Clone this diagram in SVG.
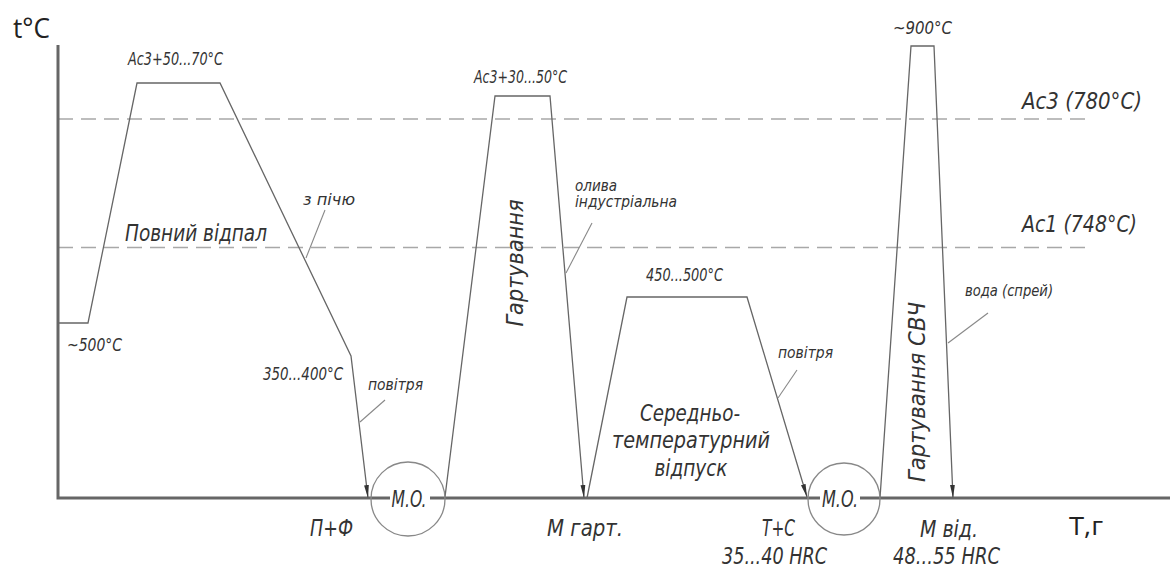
<svg xmlns="http://www.w3.org/2000/svg" width="1176" height="571" viewBox="0 0 1176 571">
  <defs>
    <marker id="arrow" markerUnits="userSpaceOnUse" markerWidth="14" markerHeight="8" viewBox="0 0 14 8" refX="13" refY="4" orient="auto">
      <path d="M0,1.6 L13,4 L0,6.4 Z" fill="#333"/>
    </marker>
    <style>
      .axis { stroke: #666; stroke-width: 3; fill: none; }
      .grid { stroke: #a8a8a8; stroke-width: 1.5; stroke-dasharray: 15 8; fill: none; }
      .curve { stroke: #666; stroke-width: 1.3; fill: none; stroke-linejoin: miter; }
      .lead { stroke: #888; stroke-width: 1.1; fill: none; }
      .ring { stroke: #888; stroke-width: 1.3; fill: none; }
      .t { font-family: "DejaVu Sans Condensed", "DejaVu Sans", "Liberation Sans", sans-serif; font-style: italic; fill: #333; }
      .s { font-size: 15px; }
      .m { font-size: 18px; }
      .l { font-size: 23px; }
      .ax { font-family: "Open Sans", "Liberation Sans", sans-serif; fill: #222; }
    </style>
  </defs>

  <rect width="1176" height="571" fill="#fff"/>

  <!-- critical temperature levels -->
  <g id="levels">
    <path class="grid" d="M58,119 H1088"/>
    <path class="grid" d="M58,247.5 H1088"/>
    <text class="t l" x="1022" y="109" textLength="120" lengthAdjust="spacingAndGlyphs">Ac3 (780°C)</text>
    <text class="t l" x="1022" y="232" textLength="115" lengthAdjust="spacingAndGlyphs">Ac1 (748°C)</text>
  </g>

  <!-- coordinate axes -->
  <g id="axes">
    <path class="axis" d="M58,45 V498 H1170"/>
    <text class="ax" x="13" y="38" font-size="28" textLength="37" lengthAdjust="spacingAndGlyphs">t°C</text>
    <text class="ax" x="1069" y="535" font-size="25" textLength="34" lengthAdjust="spacingAndGlyphs">Τ,г</text>
  </g>

  <!-- process curves -->
  <g id="connectors">
    <path class="curve" d="M58,323 H88 L137,83 H220 L351,356 L368,498" marker-end="url(#arrow)"/>
    <path class="curve" d="M445,497 L495,96 H550 L584,498" marker-end="url(#arrow)"/>
    <path class="curve" d="M587,498 L627,297 H747 L807,497" marker-end="url(#arrow)"/>
    <path class="curve" d="M880,498 L911,46 H934 L953,498" marker-end="url(#arrow)"/>
    <path class="lead" d="M325,210 L306,258"/>
    <path class="lead" d="M385,400 L360,422"/>
    <path class="lead" d="M592,223 L566,273"/>
    <path class="lead" d="M797,370 L778,398"/>
    <path class="lead" d="M988,313 L948,343"/>
  </g>

  <!-- full annealing -->
  <g id="annealing">
    <text class="t m" x="128" y="65" textLength="95" lengthAdjust="spacingAndGlyphs">Ac3+50...70°C</text>
    <text class="t m" x="67" y="351" textLength="55" lengthAdjust="spacingAndGlyphs">~500°C</text>
    <text class="t l" x="125" y="241" textLength="142" lengthAdjust="spacingAndGlyphs">Повний відпал</text>
    <text class="t s" x="303" y="205" textLength="52" lengthAdjust="spacingAndGlyphs">з пічю</text>
    <text class="t m" x="263" y="380" textLength="80" lengthAdjust="spacingAndGlyphs">350...400°C</text>
    <text class="t s" x="368" y="390" textLength="55" lengthAdjust="spacingAndGlyphs">повітря</text>
    <text class="t l" x="310" y="536" textLength="43" lengthAdjust="spacingAndGlyphs">П+Ф</text>
  </g>

  <!-- machining 1 -->
  <g id="machining-1">
    <circle class="ring" cx="408" cy="499" r="37"/>
    <rect x="390" y="486" width="40" height="24" fill="#fff"/>
    <text class="t l" x="409" y="507" text-anchor="middle" textLength="35" lengthAdjust="spacingAndGlyphs">M.O.</text>
  </g>

  <!-- hardening -->
  <g id="hardening">
    <text class="t m" x="474" y="83" textLength="93" lengthAdjust="spacingAndGlyphs">Ac3+30...50°C</text>
    <text class="t l" transform="translate(523,263) rotate(-90)" text-anchor="middle" textLength="127" lengthAdjust="spacingAndGlyphs">Гартування</text>
    <text class="t s" x="575" y="191" textLength="42" lengthAdjust="spacingAndGlyphs">олива</text>
    <text class="t s" x="575" y="207" textLength="102" lengthAdjust="spacingAndGlyphs">індустріальна</text>
    <text class="t l" x="547" y="536" textLength="76" lengthAdjust="spacingAndGlyphs">M гарт.</text>
  </g>

  <!-- medium tempering -->
  <g id="tempering">
    <text class="t m" x="646" y="281" textLength="77" lengthAdjust="spacingAndGlyphs">450...500°C</text>
    <text class="t l" x="690" y="421" text-anchor="middle" textLength="100" lengthAdjust="spacingAndGlyphs">Середньо-</text>
    <text class="t l" x="691" y="448" text-anchor="middle" textLength="158" lengthAdjust="spacingAndGlyphs">температурний</text>
    <text class="t l" x="691" y="476" text-anchor="middle" textLength="73" lengthAdjust="spacingAndGlyphs">відпуск</text>
    <text class="t s" x="778" y="358" textLength="55" lengthAdjust="spacingAndGlyphs">повітря</text>
    <text class="t l" x="762" y="536" textLength="33" lengthAdjust="spacingAndGlyphs">T+C</text>
    <text class="t l" x="722" y="564" textLength="105" lengthAdjust="spacingAndGlyphs">35...40 HRC</text>
  </g>

  <!-- machining 2 -->
  <g id="machining-2">
    <circle class="ring" cx="844" cy="499" r="36"/>
    <rect x="820" y="486" width="40" height="24" fill="#fff"/>
    <text class="t l" x="840" y="507" text-anchor="middle" textLength="36" lengthAdjust="spacingAndGlyphs">M.O.</text>
  </g>

  <!-- induction hardening -->
  <g id="induction">
    <text class="t m" x="893" y="34" textLength="59" lengthAdjust="spacingAndGlyphs">~900°C</text>
    <text class="t l" transform="translate(925,392) rotate(-90)" text-anchor="middle" textLength="180" lengthAdjust="spacingAndGlyphs">Гартування СВЧ</text>
    <text class="t s" x="965" y="296" textLength="88" lengthAdjust="spacingAndGlyphs">вода (спрей)</text>
    <text class="t l" x="920" y="537" textLength="58" lengthAdjust="spacingAndGlyphs">M від.</text>
    <text class="t l" x="893" y="564" textLength="107" lengthAdjust="spacingAndGlyphs">48...55 HRC</text>
  </g>
</svg>
